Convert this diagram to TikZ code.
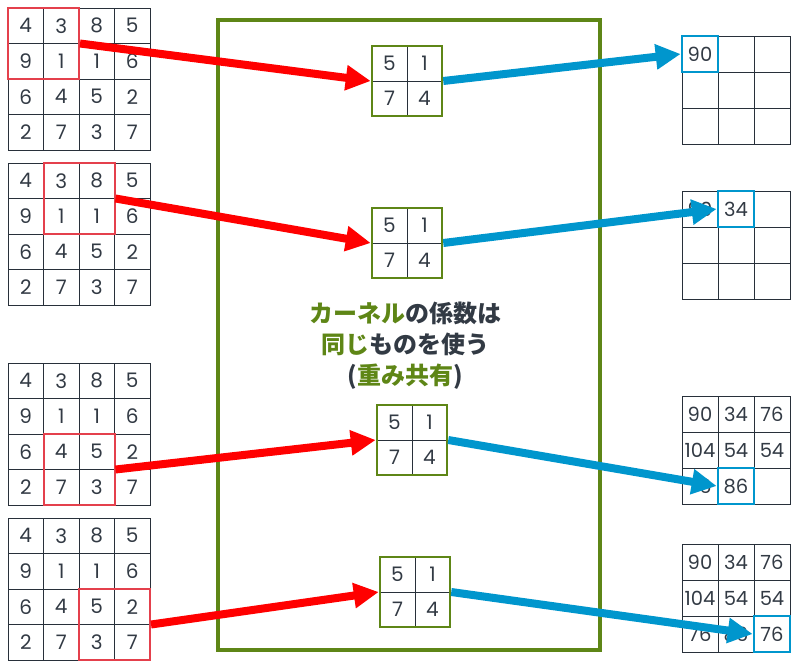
\documentclass[tikz,border=0pt]{standalone}
\usepackage{fontspec}
\setmainfont{Poppins}
\newfontfamily\jpfont{Noto Sans CJK JP}
\usetikzlibrary{arrows.meta}
\definecolor{gridline}{RGB}{40,48,58}
\definecolor{numcol}{RGB}{50,58,68}
\definecolor{kgreen}{RGB}{94,134,22}
\definecolor{boxred}{RGB}{228,64,76}
\definecolor{arrblue}{RGB}{0,150,205}

\begin{document}
\begin{tikzpicture}[x=1pt,y=-1pt,
  incell/.style={draw=gridline,line width=0.9pt,minimum size=35.5pt,inner sep=0pt,
    text=numcol,font=\fontsize{20}{20}\selectfont},
  kcell/.style={draw=gridline,line width=0.9pt,minimum size=35pt,inner sep=0pt,
    text=numcol,font=\fontsize{20}{20}\selectfont},
  outcell/.style={draw=gridline,line width=0.9pt,minimum size=36pt,inner sep=0pt},
  num/.style={inner sep=0pt,text=numcol,font=\fontsize{19.5}{20}\selectfont},
  redbox/.style={draw=boxred,line width=2pt,minimum size=71pt,inner sep=0pt},
  kernbox/.style={draw=kgreen,line width=2.5pt,minimum size=70pt,inner sep=0pt},
  bluebox/.style={draw=arrblue,line width=2.6pt,minimum size=36pt,inner sep=0pt},
  panel/.style={draw=kgreen,line width=4pt,minimum width=382pt,minimum height=630pt,inner sep=0pt},
  redarrow/.style={draw=red,line width=8pt,-{Triangle[length=25pt,width=24pt]}},
  bluearrow/.style={draw=arrblue,line width=8pt,-{Triangle[length=25pt,width=24pt]}}]
\useasboundingbox (0,0) rectangle (806,669);

% input images
\foreach \g/\top in {1/8,2/163,3/363,4/518}{
  \foreach \row [count=\r from 0] in {{4,3,8,5},{9,1,1,6},{6,4,5,2},{2,7,3,7}}{
    \foreach \v [count=\c from 0] in \row
      \node[incell] (in\g-\r-\c) at ({8+35.5*\c+17.75},{\top+35.5*\r+17.75}) {\v};
  }
}
\node[redbox] (hl1) at (43.5,43.5) {};
\node[redbox] (hl2) at (79,198.5) {};
\node[redbox] (hl3) at (79,469.5) {};
\node[redbox] (hl4) at (114.5,624.5) {};

% shared kernel
\node[panel] (panel) at (409,335) {};
\foreach \k/\x/\y in {1/372/46,2/372/208,3/377/405,4/380/557}{
  \node[kcell] (k\k-a) at (\x+17.5,\y+17.5) {5};
  \node[kcell] (k\k-b) at (\x+52.5,\y+17.5) {1};
  \node[kcell] (k\k-c) at (\x+17.5,\y+52.5) {7};
  \node[kcell] (k\k-d) at (\x+52.5,\y+52.5) {4};
  \node[kernbox] (k\k) at (\x+35,\y+35) {};
}
\node[align=center,text=numcol,font=\jpfont\bfseries\fontsize{24}{31}\selectfont] (note) at (405,346)
  {\textcolor{kgreen}{カーネル}の係数は\\\textcolor{kgreen}{同じ}ものを使う\\(\textcolor{kgreen}{重み共有})};

% feature maps
\foreach \g/\top in {1/36,2/191,3/396,4/544}
  \foreach \r in {0,1,2}
    \foreach \c in {0,1,2}
      \node[outcell] (out\g-\r-\c) at ({682+36*\c+18},{\top+36*\r+18}) {};
\foreach \g/\r/\c/\v in {1/0/0/90, 2/0/0/90, 2/0/1/34,
    3/0/0/90, 3/0/1/34, 3/0/2/76, 3/1/0/104, 3/1/1/54, 3/1/2/54, 3/2/0/76, 3/2/1/86,
    4/0/0/90, 4/0/1/34, 4/0/2/76, 4/1/0/104, 4/1/1/54, 4/1/2/54, 4/2/0/76, 4/2/1/86, 4/2/2/76}
  \node[num] (v\g-\r-\c) at (out\g-\r-\c) {\v};
\node[bluebox] (ob1) at (out1-0-0) {};
\node[bluebox] (ob2) at (out2-0-1) {};
\node[bluebox] (ob3) at (out3-2-1) {};
\node[bluebox] (ob4) at (out4-2-2) {};

% arrows
\foreach \i in {1,2,3,4}{
  \draw[redarrow] (hl\i.east) -- (k\i.west);
  \draw[bluearrow] (k\i.east) -- (ob\i.west);
}
\end{tikzpicture}
\end{document}
